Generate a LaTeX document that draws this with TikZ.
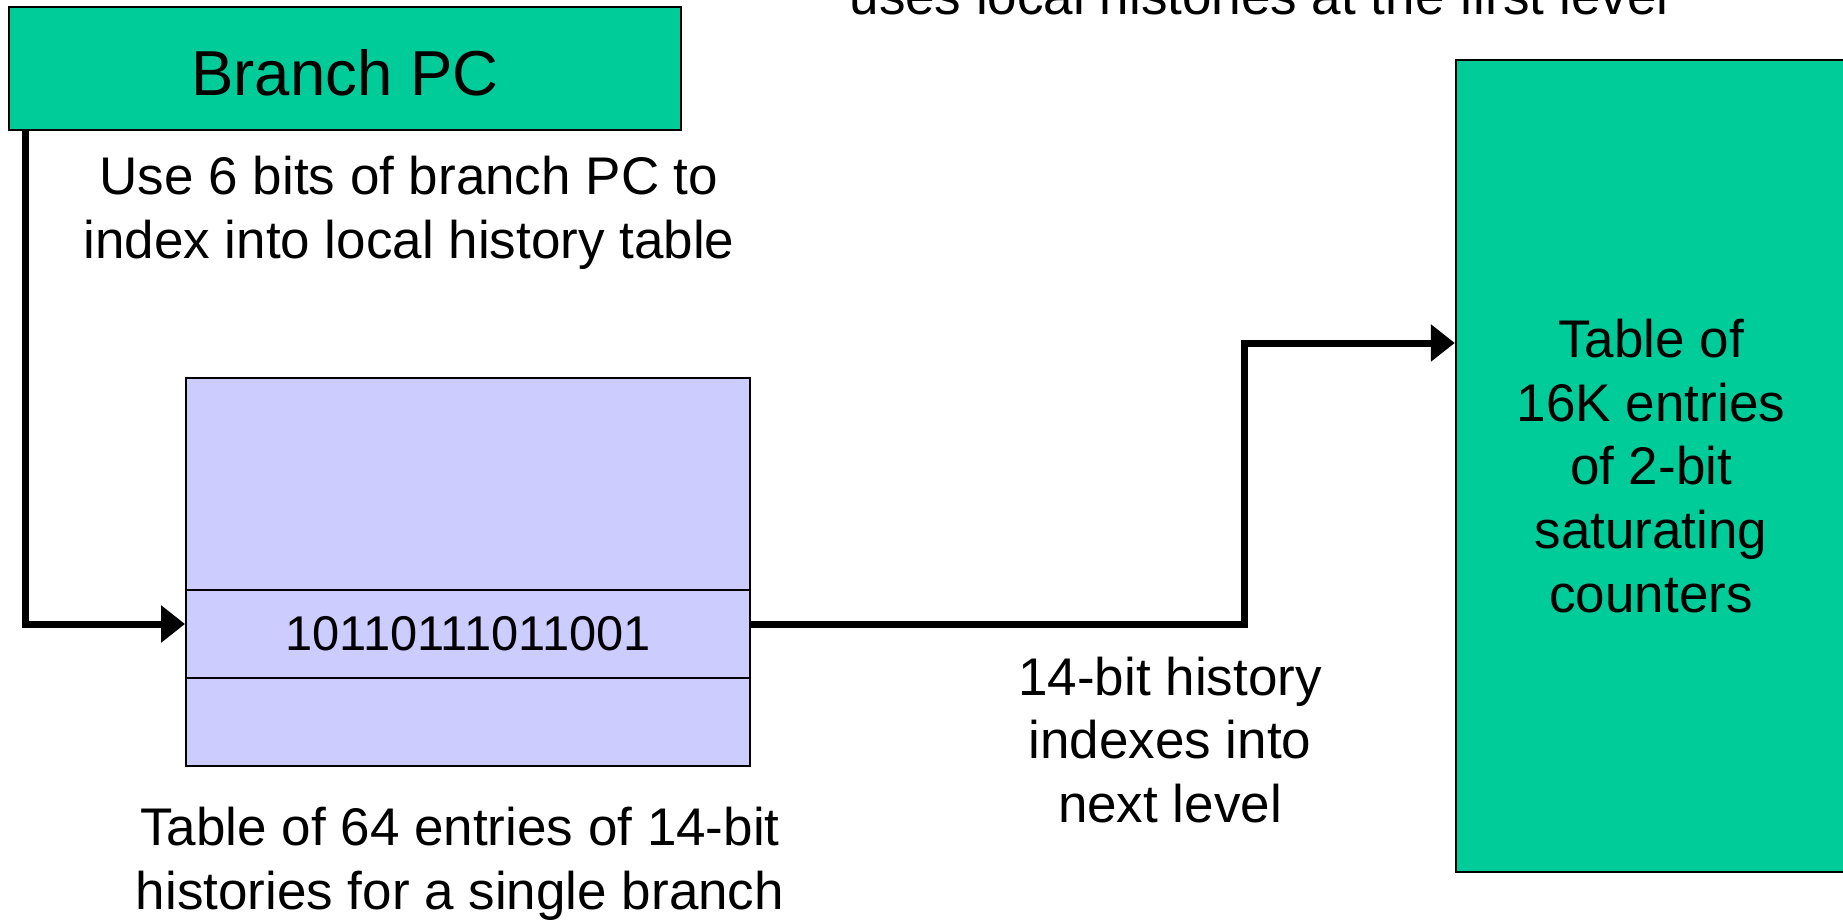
\documentclass[tikz,border=0pt]{standalone}
\usepackage{fontspec}
\setmainfont{Liberation Sans}
\usetikzlibrary{arrows.meta,calc}
\definecolor{boxgreen}{RGB}{0,204,153}
\definecolor{lav}{RGB}{204,204,255}
\tikzset{
  gbox/.style={draw=black, line width=1pt, fill=boxgreen, inner sep=0pt, align=center},
  lbox/.style={draw=black, line width=1pt, fill=lav, inner sep=0pt, minimum width=282pt},
  conn/.style={line width=3.5pt, miter limit=10, line join=miter, -{Triangle[length=12pt,width=18pt]}},
  lbl/.style={align=center, inner sep=0pt, font=\fontsize{26.5}{31.8}\selectfont},
}
\begin{document}
\begin{tikzpicture}[x=0.5pt, y=-0.5pt]
\useasboundingbox (0,0) rectangle (1843,921);
\clip (0,0) rectangle (1843,921);
% title (cut off at the top edge, as in the reference)
\node[anchor=base, inner sep=0pt, font=\fontsize{26.5}{31.8}\selectfont] (title) at (1259,14) {uses local histories at the first level};
% Branch PC
\node[gbox, minimum width=336pt, minimum height=61.5pt, font=\fontsize{31.75}{38}\selectfont, text height=27pt, text depth=0pt] (bpc) at (345,68.5) {Branch PC};
\node[lbl] (uselbl) at (409,213) {Use 6 bits of branch PC to\\index into local history table};
% local history table
\node[lbox, minimum height=106pt] (lhttop) at (468,484) {};
\node[lbox, minimum height=44pt, font=\fontsize{24.4}{29}\selectfont] (lhtrow) at (468,634) {10110111011001};
\node[lbox, minimum height=44pt] (lhtbot) at (468,722) {};
\node[lbl] (lhtlbl) at (460,864) {Table of 64 entries of 14-bit\\histories for a single branch};
% counters table
\node[gbox, line width=1.2pt, minimum width=195pt, minimum height=406pt, font=\fontsize{26.5}{31.8}\selectfont] (ctr) at (1651,466) {Table of\\16K entries\\of 2-bit\\saturating\\counters};
\node[lbl] (histlbl) at (1170,740) {14-bit history\\indexes into\\next level};
% connectors
\draw[conn] ($(bpc.south west)+(17,0)$) |- (lhtrow.west |- 0,624);
\draw[conn] (lhtrow.east |- 0,624) -| (1244,343) -- (ctr.west |- 0,343);
\end{tikzpicture}
\end{document}
